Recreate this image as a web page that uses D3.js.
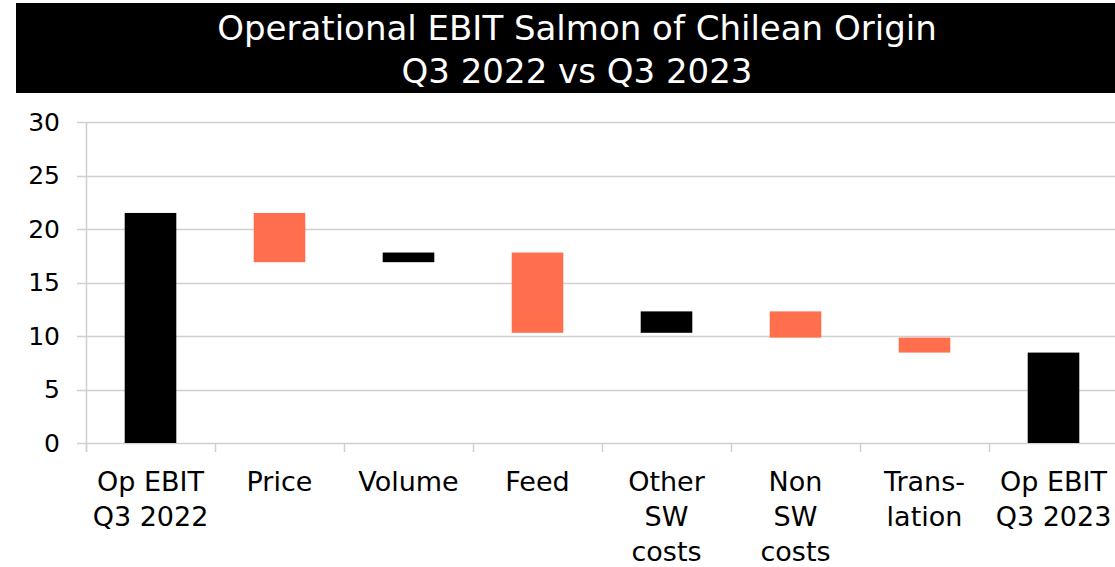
<!DOCTYPE html>
<html>
<head>
<meta charset="utf-8">
<script src="https://cdn.jsdelivr.net/npm/d3@7"></script>
<style>
  body { margin: 0; background: #fff; }
  text { font-family: "Century Gothic", "DejaVu Sans", sans-serif; }
</style>
</head>
<body>
<script>
// Chart data
const categories = ["Op EBIT Q3 2022", "Price", "Volume", "Feed", "Other SW costs", "Non SW costs", "Translation", "Op EBIT Q3 2023"];
const labelLines = [["Op EBIT", "Q3 2022"], ["Price"], ["Volume"], ["Feed"], ["Other", "SW", "costs"], ["Non", "SW", "costs"], ["Trans-", "lation"], ["Op EBIT", "Q3 2023"]];
const startValue = 21.5;
const deltas = [-4.6, 0.9, -7.5, 2.0, -2.45, -1.4];
const endValue = 8.45;
const yTicks = [0, 5, 10, 15, 20, 25, 30];
const titleLines = ["Operational EBIT Salmon of Chilean Origin", "Q3 2022 vs Q3 2023"];

const width = 1115, height = 567;
const margin = { top: 122, right: -3, bottom: 124, left: 86 };

const svg = d3.select("body").append("svg")
    .attr("width", width)
    .attr("height", height);

// Title box
svg.append("rect")
    .attr("x", 16).attr("y", 3)
    .attr("width", width - 16).attr("height", 90)
    .attr("fill", "#000");

svg.append("g").selectAll("text")
    .data(titleLines)
    .enter().append("text")
    .attr("x", 577)
    .attr("y", (d, i) => 40 + i * 43)
    .attr("text-anchor", "middle")
    .attr("fill", "#fff")
    .attr("font-size", 34)
    .text(d => d);

// Build waterfall segments
const bars = [];
let running = startValue;
bars.push({ cat: categories[0], y0: 0, y1: startValue, kind: "total" });
deltas.forEach((d, i) => {
    const next = running + d;
    bars.push({ cat: categories[i + 1], y0: running, y1: next, kind: d < 0 ? "down" : "up" });
    running = next;
});
bars.push({ cat: categories[categories.length - 1], y0: 0, y1: endValue, kind: "total" });

const x = d3.scaleBand()
    .domain(categories)
    .range([margin.left, width - margin.right])
    .paddingInner(0.6)
    .paddingOuter(0.3);

const y = d3.scaleLinear()
    .domain([0, 30])
    .range([height - margin.bottom, margin.top]);

// Gridlines
svg.append("g").selectAll("line")
    .data(yTicks)
    .enter().append("line")
    .attr("x1", margin.left - 9)
    .attr("x2", width)
    .attr("y1", d => Math.round(y(d)) + 0.5)
    .attr("y2", d => Math.round(y(d)) + 0.5)
    .attr("stroke", "#d0d0d0")
    .attr("stroke-width", 1.5);

// Y axis line
svg.append("line")
    .attr("x1", margin.left + 0.5).attr("x2", margin.left + 0.5)
    .attr("y1", y(30)).attr("y2", y(0) + 9)
    .attr("stroke", "#d0d0d0")
    .attr("stroke-width", 1.5);

// Category tick marks (band boundaries)
const step = x.step();
svg.append("g").selectAll("line")
    .data(d3.range(categories.length + 1))
    .enter().append("line")
    .attr("x1", i => margin.left + i * step + 0.5)
    .attr("x2", i => margin.left + i * step + 0.5)
    .attr("y1", y(0))
    .attr("y2", y(0) + 9)
    .attr("stroke", "#d0d0d0")
    .attr("stroke-width", 1.5);

// Y tick labels
svg.append("g").selectAll("text")
    .data(yTicks)
    .enter().append("text")
    .attr("x", 60)
    .attr("y", d => y(d))
    .attr("dy", "0.35em")
    .attr("text-anchor", "end")
    .attr("font-size", 25)
    .attr("fill", "#000")
    .text(d => d);

// Bars
const color = { total: "#000000", down: "#ff6f4d", up: "#000000" };
svg.append("g").selectAll("rect")
    .data(bars)
    .enter().append("rect")
    .attr("x", d => x(d.cat))
    .attr("width", x.bandwidth())
    .attr("y", d => y(Math.max(d.y0, d.y1)))
    .attr("height", d => Math.abs(y(d.y0) - y(d.y1)))
    .attr("fill", d => color[d.kind]);

// X labels
const xl = svg.append("g").selectAll("g")
    .data(categories)
    .enter().append("g")
    .attr("transform", d => `translate(${x(d) + x.bandwidth() / 2},0)`);

xl.selectAll("text")
    .data((d, i) => labelLines[i])
    .enter().append("text")
    .attr("x", 0)
    .attr("y", (d, i) => 491 + i * 35)
    .attr("text-anchor", "middle")
    .attr("font-size", 27)
    .attr("fill", "#000")
    .text(d => d);
</script>
</body>
</html>
